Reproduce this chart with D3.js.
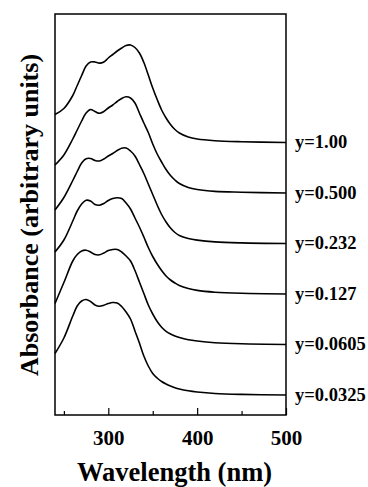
<!DOCTYPE html>
<html>
<head>
<meta charset="utf-8">
<script src="https://cdn.jsdelivr.net/npm/d3@7"></script>
<style>
  body { margin: 0; background: #fff; }
  text { font-family: "Liberation Serif", "Times New Roman", serif; font-weight: bold; }
</style>
</head>
<body>
<script>
// absorption spectra, offset vertically, one per composition

var wavelengths = [240,250,260,265,270,275,280,285,290,295,300,305,310,315,320,325,330,335,340,345,350,355,360,365,370,375,380,390,400,420,450,500];

var compositions = ["y=1.00","y=0.500","y=0.232","y=0.127","y=0.0605","y=0.0325"];

var absY100 = [0.28,0.34,0.47,0.57,0.67,0.765,0.805,0.805,0.794,0.805,0.845,0.88,0.915,0.945,0.97,0.975,0.95,0.895,0.80,0.675,0.545,0.43,0.325,0.245,0.18,0.13,0.095,0.055,0.035,0.018,0.008,0];
var absY050 = [0.28,0.38,0.54,0.63,0.72,0.80,0.835,0.815,0.797,0.815,0.85,0.88,0.915,0.945,0.962,0.95,0.90,0.80,0.70,0.605,0.49,0.39,0.31,0.235,0.175,0.13,0.095,0.055,0.035,0.016,0.008,0];
var absY023 = [0.335,0.46,0.63,0.72,0.805,0.848,0.85,0.83,0.825,0.845,0.875,0.90,0.93,0.953,0.955,0.925,0.875,0.79,0.70,0.595,0.49,0.385,0.29,0.215,0.155,0.11,0.08,0.05,0.034,0.016,0.006,0];
var absY013 = [0.42,0.54,0.73,0.83,0.90,0.938,0.93,0.895,0.888,0.905,0.935,0.955,0.963,0.955,0.91,0.85,0.76,0.67,0.57,0.465,0.375,0.30,0.235,0.18,0.14,0.11,0.085,0.055,0.036,0.018,0.007,0];
var absY006 = [0.41,0.62,0.835,0.90,0.935,0.943,0.925,0.90,0.897,0.915,0.94,0.95,0.95,0.925,0.885,0.835,0.74,0.625,0.51,0.395,0.305,0.23,0.172,0.132,0.105,0.085,0.07,0.048,0.035,0.018,0.007,0];
var absY003 = [0.415,0.57,0.79,0.89,0.94,0.955,0.935,0.90,0.887,0.898,0.915,0.925,0.92,0.885,0.83,0.76,0.64,0.52,0.39,0.29,0.215,0.17,0.135,0.11,0.09,0.073,0.06,0.042,0.03,0.015,0.006,0];

var spectra = [absY100, absY050, absY023, absY013, absY006, absY003];

var majorTicks = [300,400,500];
var minorTicks = [250,350,450];

var width = 368;
var height = 487;

var svg = d3.select("body").append("svg")
    .attr("width", width)
    .attr("height", height);

var plotLeft = 55, plotRight = 286, plotTop = 14, plotBottom = 415;
var step = 0.505; // vertical shift between spectra

var x = d3.scaleLinear().domain([240,500]).range([plotLeft,plotRight]);
var y = d3.scaleLinear().domain([-0.2,3.81]).range([plotBottom,plotTop]);

// frame
svg.append("rect")
    .attr("x", plotLeft)
    .attr("y", plotTop)
    .attr("width", plotRight-plotLeft)
    .attr("height", plotBottom-plotTop)
    .attr("fill", "none")
    .attr("stroke", "#000")
    .attr("stroke-width", 1.5);

// ticks point inward
var major = svg.append("g")
    .attr("transform", "translate(0," + plotBottom + ")")
    .call(d3.axisBottom(x).tickValues(majorTicks).tickSizeInner(-7).tickSizeOuter(0).tickPadding(15).tickFormat(d3.format("d")));
var minor = svg.append("g")
    .attr("transform", "translate(0," + plotBottom + ")")
    .call(d3.axisBottom(x).tickValues(minorTicks).tickSizeInner(-4).tickSizeOuter(0).tickFormat(""));

[major, minor].forEach(function(g){
    g.select(".domain").remove();
    g.selectAll("line").attr("stroke", "#000").attr("stroke-width", 1.2);
});
major.selectAll("text")
    .attr("font-size", 21)
    .attr("font-family", "'Liberation Serif', 'Times New Roman', serif")
    .attr("font-weight", "bold")
    .attr("fill", "#000");

var line = d3.line()
    .x(function(d){ return x(d[0]); })
    .y(function(d){ return y(d[1]); })
    .curve(d3.curveCatmullRom.alpha(0.5));

spectra.forEach(function(vals, i){
    var offset = (spectra.length - 1 - i) * step;
    var pts = wavelengths.map(function(w, k){ return [w, vals[k] + offset]; });

    svg.append("path")
        .attr("d", line(pts))
        .attr("fill", "none")
        .attr("stroke", "#000")
        .attr("stroke-width", 1.6);

    svg.append("text")
        .attr("x", plotRight + 9)
        .attr("y", y(offset))
        .attr("dy", "0.32em")
        .attr("font-size", 18.5)
        .text(compositions[i]);
});

svg.append("text")
    .attr("x", (plotLeft+plotRight)/2 + 4)
    .attr("y", 481)
    .attr("text-anchor", "middle")
    .attr("font-size", 26.5)
    .text("Wavelength (nm)");

svg.append("text")
    .attr("transform", "translate(38,215) rotate(-90)")
    .attr("text-anchor", "middle")
    .attr("font-size", 26)
    .text("Absorbance (arbitrary units)");
</script>
</body>
</html>
